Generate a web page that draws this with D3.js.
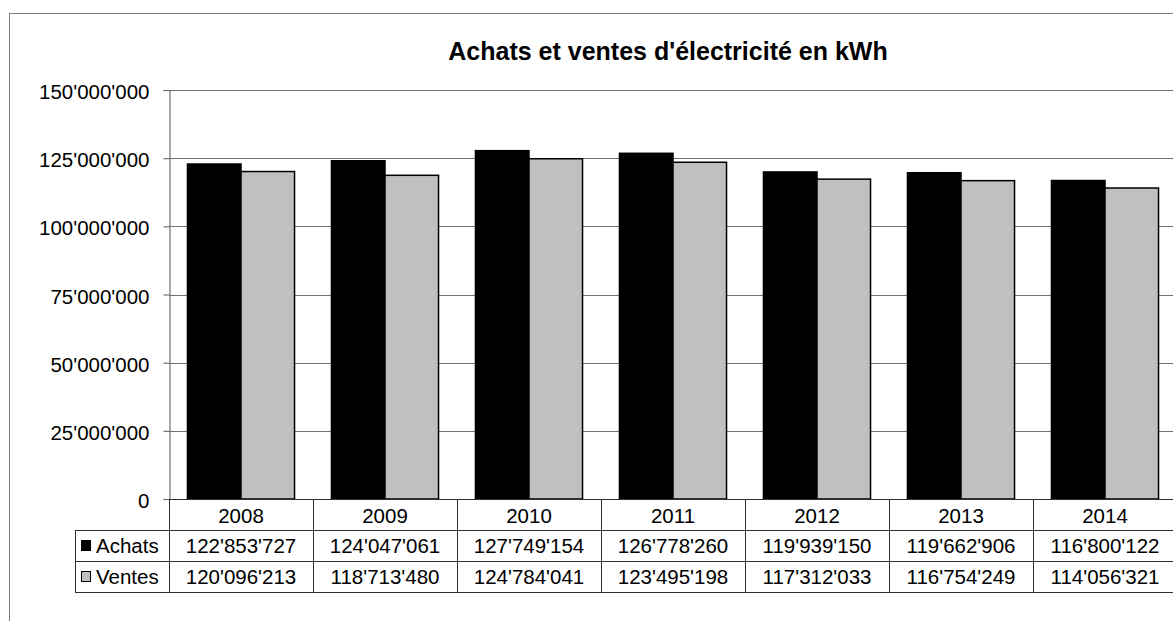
<!DOCTYPE html>
<html>
<head>
<meta charset="utf-8">
<script src="https://cdn.jsdelivr.net/npm/d3@7"></script>
<style>
  body { margin: 0; background: #fff; overflow: hidden; }
  svg { display: block; font-family: "Liberation Sans", Arial, sans-serif; }
</style>
</head>
<body>
<script>
// ** Data
const years = ["2008", "2009", "2010", "2011", "2012", "2013", "2014"];
const achats = [122853727, 124047061, 127749154, 126778260, 119939150, 119662906, 116800122];
const ventes = [120096213, 118713480, 124784041, 123495198, 117312033, 116754249, 114056321];
const seriesNames = ["Achats", "Ventes"];
const yTicks = [0, 25000000, 50000000, 75000000, 100000000, 125000000, 150000000];

const series = [
  { name: seriesNames[0], values: achats, fill: "#000000" },
  { name: seriesNames[1], values: ventes, fill: "#c0c0c0" }
];

// ** Layout
const W = 1173, H = 621;
const plotLeft = 169, plotRight = 1177, plotTop = 90, plotBottom = 499;
const rowH = 31;
const fontSize = 20.5;

const fmt = d3.formatLocale({ decimal: ".", thousands: "'", grouping: [3], currency: ["", ""] }).format(",");

const svg = d3.select("body").append("svg").attr("width", W).attr("height", H);

// outer chart border
svg.append("rect")
  .attr("x", 9.5).attr("y", 13.5)
  .attr("width", 1200).attr("height", 700)
  .attr("fill", "none").attr("stroke", "#808080");

svg.append("text")
  .attr("x", 668).attr("y", 60)
  .attr("text-anchor", "middle")
  .attr("font-size", 25).attr("font-weight", "bold")
  .text("Achats et ventes d'électricité en kWh");

// ** Scales
const x = d3.scaleBand().domain(years).range([plotLeft, plotRight]);
const y = d3.scaleLinear().domain([0, 150000000]).range([plotBottom, plotTop]);
const inner = d3.scaleBand().domain(seriesNames).range([0, x.bandwidth()]).paddingOuter(0.345).paddingInner(0);

// gridlines
svg.append("g").selectAll("line").data(yTicks.filter(d => d > 0)).join("line")
  .attr("x1", plotLeft).attr("x2", plotRight)
  .attr("y1", d => Math.round(y(d)) + 0.5).attr("y2", d => Math.round(y(d)) + 0.5)
  .attr("stroke", "#707070").attr("stroke-width", 1.2);

// y axis
const yAxis = svg.append("g")
  .attr("transform", `translate(${plotLeft + 0.5},0)`)
  .call(d3.axisLeft(y).tickValues(yTicks).tickFormat(d => d === 0 ? "0" : fmt(d)).tickSize(6).tickPadding(14));
yAxis.select(".domain").attr("stroke", "#707070").attr("stroke-width", 1.2);
yAxis.selectAll(".tick line").attr("stroke", "#707070").attr("stroke-width", 1.2);
yAxis.selectAll(".tick text")
  .attr("font-size", fontSize).attr("fill", "#000").attr("dy", "0.42em")
  .attr("font-family", "Liberation Sans, Arial, sans-serif");

// bars
series.forEach(s => {
  svg.append("g").selectAll("rect").data(s.values).join("rect")
    .attr("x", (d, i) => x(years[i]) + inner(s.name))
    .attr("width", inner.bandwidth())
    .attr("y", d => y(d))
    .attr("height", d => y(0) - y(d))
    .attr("fill", s.fill)
    .attr("stroke", "#000").attr("stroke-width", 1.5);
});

// ** Data table
const table = svg.append("g").attr("stroke", "#303030").attr("stroke-width", 1);
// horizontal lines
table.append("line").attr("x1", plotLeft).attr("x2", plotRight).attr("y1", plotBottom + 0.5).attr("y2", plotBottom + 0.5);
[1, 2, 3].forEach(r => {
  table.append("line")
    .attr("x1", 75).attr("x2", plotRight)
    .attr("y1", plotBottom + r * rowH + 0.5).attr("y2", plotBottom + r * rowH + 0.5);
});
// vertical lines
years.forEach(yr => {
  table.append("line")
    .attr("x1", Math.round(x(yr)) + 0.5).attr("x2", Math.round(x(yr)) + 0.5)
    .attr("y1", plotBottom).attr("y2", plotBottom + 3 * rowH);
});
table.append("line").attr("x1", 75.5).attr("x2", 75.5).attr("y1", plotBottom + rowH).attr("y2", plotBottom + 3 * rowH);

// category labels
svg.append("g").selectAll("text").data(years).join("text")
  .attr("x", d => x(d) + x.bandwidth() / 2)
  .attr("y", plotBottom + rowH / 2 + 8)
  .attr("text-anchor", "middle").attr("font-size", fontSize)
  .text(d => d);

// row values and legend keys
series.forEach((s, r) => {
  const rowY = plotBottom + (r + 1) * rowH;
  svg.append("rect")
    .attr("x", 81.5).attr("y", rowY + 10.5)
    .attr("width", 9).attr("height", 10)
    .attr("fill", s.fill).attr("stroke", "#000").attr("stroke-width", 1);
  svg.append("text")
    .attr("x", 96).attr("y", rowY + rowH / 2 + 7)
    .attr("font-size", fontSize)
    .text(s.name);
  svg.append("g").selectAll("text").data(s.values).join("text")
    .attr("x", (d, i) => x(years[i]) + x.bandwidth() / 2)
    .attr("y", rowY + rowH / 2 + 7)
    .attr("text-anchor", "middle").attr("font-size", fontSize)
    .text(d => fmt(d));
});
</script>
</body>
</html>
